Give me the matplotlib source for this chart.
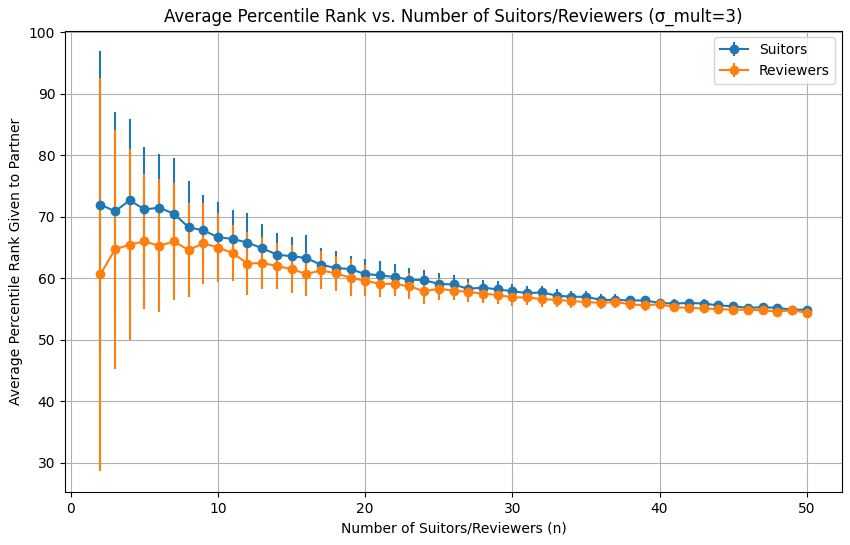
import numpy as np
import matplotlib.pyplot as plt

# number of suitors/reviewers
n_values = list(range(2, 51))

# average percentile rank given to partner
suitor_means = [72.0, 70.9, 72.7, 71.2, 71.5, 70.5, 68.3, 67.8, 66.7, 66.4,
                65.8, 64.9, 63.85, 63.6, 63.3, 62.2, 61.7, 61.5, 60.7, 60.5,
                60.2, 59.8, 59.7, 59.1, 59.0, 58.3, 58.5, 58.2, 57.9, 57.6,
                57.7, 57.2, 57.0, 57.0, 56.5, 56.5, 56.4, 56.4, 56.0, 55.9,
                56.0, 55.9, 55.6, 55.45, 55.2, 55.3, 55.2, 54.9, 54.9]
suitor_errs = [24.9, 16.1, 13.2, 10.1, 8.7, 9.0, 7.6, 5.7, 5.7, 4.7,
               4.9, 4.0, 3.6, 3.2, 3.7, 2.7, 2.7, 2.1, 2.4, 2.3,
               2.1, 1.9, 1.7, 1.8, 1.6, 1.6, 1.3, 1.4, 1.2, 1.2,
               1.1, 1.0, 1.0, 0.9, 0.9, 0.9, 0.8, 0.8, 0.7, 0.7,
               0.7, 0.7, 0.6, 0.6, 0.6, 0.6, 0.5, 0.5, 0.5]

reviewer_means = [60.65, 64.7, 65.5, 66.0, 65.3, 66.0, 64.6, 65.7, 65.0, 64.1,
                  62.4, 62.5, 62.0, 61.5, 60.7, 61.3, 60.8, 60.1, 59.6, 59.1,
                  59.1, 58.7, 57.9, 58.3, 58.0, 57.8, 57.5, 57.3, 56.9, 56.9,
                  56.6, 56.5, 56.3, 56.15, 56.0, 56.15, 55.8, 55.6, 55.8, 55.3,
                  55.2, 55.1, 55.0, 54.9, 54.9, 54.8, 54.6, 54.8, 54.4]
reviewer_errs = [32.0, 19.4, 15.5, 11.0, 10.8, 9.5, 7.6, 6.6, 5.6, 4.6,
                 5.1, 4.2, 3.7, 3.9, 3.5, 3.1, 2.9, 3.0, 2.5, 2.1,
                 1.9, 2.1, 2.0, 1.8, 1.6, 1.6, 1.5, 1.5, 1.4, 1.3,
                 1.3, 1.2, 1.1, 1.0, 1.0, 1.0, 0.9, 0.9, 0.8, 0.8,
                 0.8, 0.7, 0.7, 0.7, 0.6, 0.6, 0.6, 0.6, 0.6]

fig, ax = plt.subplots(figsize=(8.5, 5.45), dpi=100)
fig.subplots_adjust(left=0.0765, right=0.9906, bottom=0.0972, top=0.944)

ax.errorbar(n_values, suitor_means, yerr=suitor_errs, fmt='-o', label='Suitors')
ax.errorbar(n_values, reviewer_means, yerr=reviewer_errs, fmt='-o', label='Reviewers')

ax.set_xlabel('Number of Suitors/Reviewers (n)')
ax.set_ylabel('Average Percentile Rank Given to Partner')
ax.set_title('Average Percentile Rank vs. Number of Suitors/Reviewers (σ_mult=3)')
ax.legend()
ax.grid(True)

plt.savefig('out.png')
